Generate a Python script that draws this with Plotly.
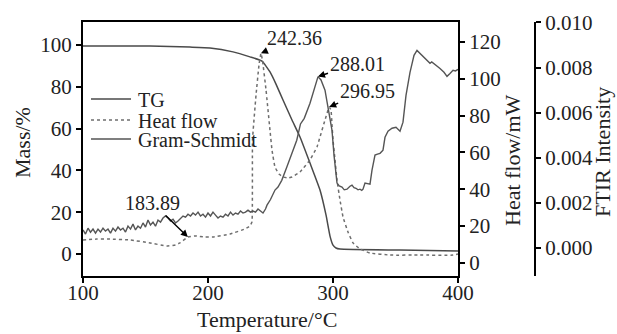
import numpy as np
import plotly.graph_objects as go

# ---- data -------------------------------------------------------------
# TG: residual mass (%) versus temperature (°C)
tg_temp = [100, 153.6, 185.6, 201.6, 220, 233.6, 243.2, 249.6, 254.4, 260, 267.2,
           273.6, 281.6, 289.6, 294.4, 297.6, 300, 302.4, 305.6, 353.6, 400]
tg_mass = [99.5, 99.5, 99.0, 98.6, 96.7, 94.3, 92.3, 87.1, 81.3, 73.7, 64.1,
           56.0, 43.5, 30.6, 18.7, 8.6, 4.3, 2.9, 2.4, 1.9, 1.4]

# Heat flow (mW) versus temperature (°C)
hf_temp = [100, 111, 121.6, 137.6, 153.6, 167, 174, 177.6, 183.89, 189.6, 197.6,
           204, 217.6, 229.6, 233.6, 235.2, 235.6, 238.4, 240.8, 242.36, 243.6,
           246.4, 249.6, 251.2, 253.6, 256.8, 260, 264, 267.2, 273.6, 281.6,
           287.2, 289.6, 293.6, 296.95, 298.4, 299.2, 300, 301.6, 303.2, 305.6,
           308, 312, 316, 321.6, 329.6, 345.6, 369.6, 396, 400]
hf_mw = [12.5, 13.0, 13.0, 12.5, 10.9, 9.2, 9.8, 10.9, 14.1, 14.7, 14.1,
         14.1, 15.7, 18.5, 20.1, 22.3, 66.8, 91.0, 107.5, 113.8, 110.0,
         94.0, 72.0, 61.3, 52.0, 48.3, 46.7, 46.1, 46.7, 49.4, 55.9,
         63.0, 68.4, 77.6, 84.7, 83.0, 75.0, 66.8, 56.0, 45.0, 34.2,
         25.0, 16.8, 10.9, 7.6, 5.4, 4.3, 4.3, 4.3, 4.9]

# Gram-Schmidt FTIR intensity versus temperature (°C), in units of 1e-3
gs_temp = list(range(100, 248, 2)) + [
    247.2, 250, 253.6, 256, 259, 263, 265.6, 268, 271, 274, 277, 281.6, 284, 286,
    288.01, 290.4, 293.6, 296, 299.2, 300.8, 303.2, 305, 307.2, 309, 311.2, 313.6,
    315.2, 316.8, 318.4, 320, 321.6, 323, 324, 325.6, 327.6, 329.6, 331.2, 333.6,
    335.6, 337.6, 340, 341.6, 344, 347.2, 350.4, 353.6, 356, 358.4, 361.6, 364.8,
    367.2, 369.6, 372, 374, 375.2, 377.6, 379, 381.6, 383.5, 385.6, 388.8, 391.2,
    393.6, 396, 398, 400]
gs_milli = [
    0.80, 0.62, 0.88, 0.70, 0.84, 0.66, 0.84, 0.71, 0.88, 0.75,
    0.84, 0.66, 0.88, 0.75, 0.93, 0.80, 0.88, 0.71, 0.97, 0.84,
    1.06, 0.80, 0.97, 0.88, 1.11, 0.93, 1.24, 1.02, 1.15, 0.97,
    1.24, 1.15, 1.33, 1.42, 1.33, 1.20, 1.28, 1.11, 1.20, 1.33,
    1.42, 1.37, 1.50, 1.42, 1.55, 1.46, 1.59, 1.42, 1.50, 1.37,
    1.55, 1.42, 1.59, 1.46, 1.33, 1.42, 1.37, 1.50, 1.42, 1.59,
    1.46, 1.55, 1.50, 1.64, 1.55, 1.59, 1.68, 1.59, 1.64, 1.59,
    1.73, 1.64, 1.55, 1.73,
    1.90, 2.15, 2.57, 2.70, 3.00, 3.58, 4.00, 4.34, 4.78, 5.50, 5.75, 6.42, 6.90, 7.30,
    7.60, 7.45, 7.00, 6.24, 5.22, 4.12, 2.88, 2.75, 2.70, 2.58, 2.61, 2.74,
    2.79, 2.68, 2.65, 2.58, 2.61, 2.56, 2.61, 2.88, 2.86, 2.83, 3.45, 4.12,
    4.16, 4.20, 4.34, 4.91, 5.18, 5.31, 5.35, 5.18, 5.58, 6.77, 7.79, 8.54,
    8.76, 8.63, 8.50, 8.40, 8.32, 8.19, 8.25, 8.14, 8.05, 7.96, 7.79, 7.61,
    7.74, 7.88, 7.85, 7.92]
gs_intensity = np.array(gs_milli) * 1e-3

# Temperatures marked with labels
hf_peak_marks = [183.89, 242.36, 296.95]
gs_peak_mark = 288.01

x_ticks = [100, 200, 300, 400]
mass_ticks = [0, 20, 40, 60, 80, 100]
hf_ticks = [0, 20, 40, 60, 80, 100, 120]
ftir_ticks = [0.000, 0.002, 0.004, 0.006, 0.008, 0.010]

series_names = ["TG", "Heat flow", "Gram-Schmidt"]
series_colors = ["#4a4a4a", "#6e6e6e", "#555555"]
series_dash = ["solid", "dot", "solid"]

# ---- figure -----------------------------------------------------------
FONT = "Liberation Serif"
W, H = 617, 334
ML, MR, MT, MB = 83, 0, 22, 58
plot_w = W - ML - MR
plot_h = H - MT - MB
x_end = (458 - ML) / plot_w
ftir_pos = (535 - ML) / plot_w


def px_x(px):
    return (px - ML) / plot_w


def px_y(py):
    return (H - MB - py) / plot_h


fig = go.Figure()
fig.add_trace(go.Scatter(
    x=tg_temp, y=tg_mass, name=series_names[0], mode="lines", yaxis="y",
    line=dict(color=series_colors[0], width=1.5, shape="spline", smoothing=0.4)))
fig.add_trace(go.Scatter(
    x=hf_temp, y=hf_mw, name=series_names[1], mode="lines", yaxis="y2",
    line=dict(color=series_colors[1], width=1.5, dash="dot", shape="spline",
              smoothing=0.3)))
fig.add_trace(go.Scatter(
    x=gs_temp, y=gs_intensity, name=series_names[2], mode="lines", yaxis="y3",
    line=dict(color=series_colors[2], width=1.4)))

axis_common = dict(
    showgrid=False, zeroline=False, showline=True, linecolor="black",
    linewidth=2, ticks="outside", ticklen=5, tickwidth=1.5, tickcolor="black",
    automargin=False,
    tickfont=dict(family=FONT, size=21, color="#222"))

fig.update_layout(
    width=W, height=H,
    margin=dict(l=ML, r=MR, t=MT, b=MB, pad=0, autoexpand=False),
    paper_bgcolor="white", plot_bgcolor="white",
    font=dict(family=FONT, color="#222"),
    showlegend=False,
    xaxis=dict(domain=[0, x_end], range=[100, 400], tickvals=x_ticks,
               mirror=True, ticklabelstandoff=-8, **axis_common),
    yaxis=dict(range=[-10.5, 111], tickvals=mass_ticks, **axis_common),
    yaxis2=dict(range=[-7.06, 130.8], tickvals=hf_ticks, overlaying="y",
                side="right", anchor="x", **axis_common),
    yaxis3=dict(range=[-0.00124, 0.01002], tickvals=ftir_ticks, tickformat=".3f",
                overlaying="y", side="right", anchor="free", position=ftir_pos,
                **axis_common),
)

# Legend: line samples with their names
legend_rows = [99, 120, 139]
for name, color, dash, row in zip(series_names, series_colors, series_dash, legend_rows):
    fig.add_shape(type="line", xref="paper", yref="paper",
                  x0=px_x(91), x1=px_x(131), y0=px_y(row), y1=px_y(row),
                  line=dict(color=color, width=1.5, dash=dash))
    fig.add_annotation(xref="paper", yref="paper", x=px_x(136), y=px_y(row + 1),
                       text=name, showarrow=False, xanchor="left", yanchor="middle",
                       font=dict(family=FONT, size=20, color="#222"))

# Axis titles
title_font = dict(family=FONT, size=22, color="#222")
titles = [
    dict(text="Temperature/°C", x=px_x(267), y=px_y(319), textangle=0),
    dict(text="Mass/%", x=px_x(22), y=px_y(143), textangle=-90),
    dict(text="Heat flow/mW", x=px_x(513), y=px_y(160), textangle=-90),
    dict(text="FTIR Intensity", x=px_x(602), y=px_y(152), textangle=-90),
]
for t in titles:
    fig.add_annotation(xref="paper", yref="paper", showarrow=False,
                       xanchor="center", yanchor="middle", font=title_font, **t)

# Peak labels with arrows, anchored on the curve values
label_font = dict(family=FONT, size=20, color="#222")
hf_offsets = {183.89: (-35, -34), 242.36: (34, -15), 296.95: (38, -16)}
for t in hf_peak_marks:
    y_val = float(np.interp(t, hf_temp, hf_mw))
    ax, ay = hf_offsets[t]
    fig.add_annotation(x=t, y=y_val, xref="x", yref="y2", text=f"{t:.2f}",
                       showarrow=True, ax=ax, ay=ay, arrowhead=2, arrowsize=1,
                       arrowwidth=1.4, arrowcolor="black", font=label_font)

gs_val = float(np.interp(gs_peak_mark, gs_temp, gs_intensity))
fig.add_annotation(x=gs_peak_mark, y=gs_val, xref="x", yref="y3",
                   text=f"{gs_peak_mark:.2f}", showarrow=True, ax=39, ay=-13,
                   arrowhead=2, arrowsize=1, arrowwidth=1.4, arrowcolor="black",
                   font=label_font)

fig.write_html("out.html")
